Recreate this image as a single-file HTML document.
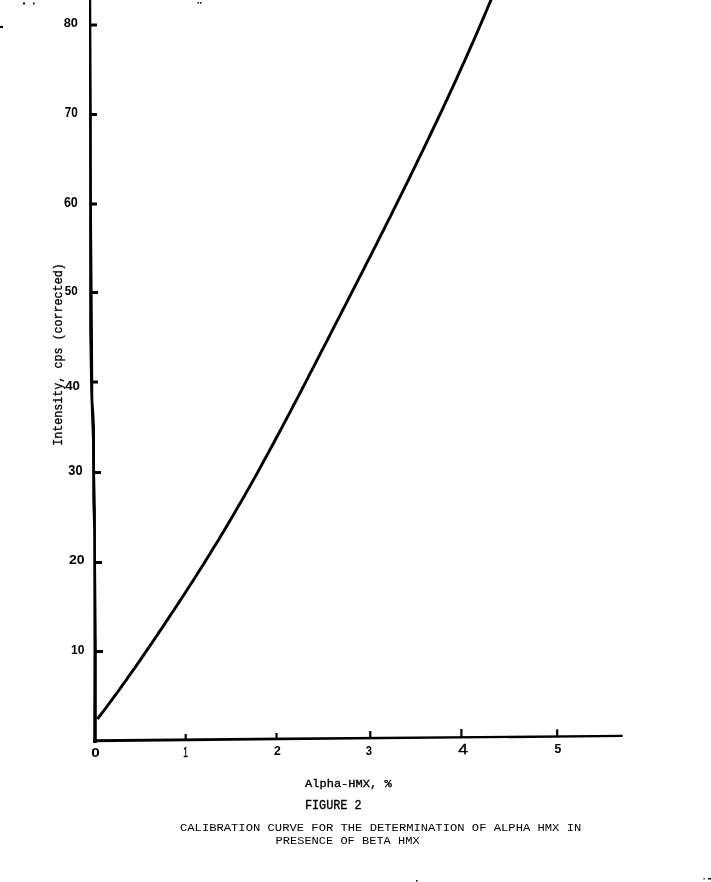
<!DOCTYPE html>
<html><head><meta charset="utf-8"><style>
html,body{margin:0;padding:0;background:#fff;}
svg{filter:grayscale(1);}
body{width:711px;height:882px;overflow:hidden;}
svg{display:block;}
.n{font-family:"Liberation Sans",sans-serif;font-weight:bold;fill:#000;}
.nr{font-family:"Liberation Sans",sans-serif;fill:#000;stroke:#000;stroke-width:0.4;}
.m{font-family:"Liberation Mono",monospace;fill:#000;}
.mb{font-family:"Liberation Mono",monospace;fill:#000;stroke:#000;stroke-width:0.35;}
</style></head><body>
<svg width="711" height="882" viewBox="0 0 711 882">
<rect width="711" height="882" fill="#fff"/>
<path d="M89,0 L89.2,330 L90.2,390 L91.2,418 L92,440 L92.3,500 L93.2,530 L93.5,650 L93.2,743 L96.8,743 L96.8,650 L96,560 L95.9,510 L95,470 L95,428 L94.3,414 L93.3,400 L92.9,330 L92,220 L91.8,120 L91.2,0Z" fill="#000"/>
<path d="M93,739.14 L622.6,734.83 L622.6,737.03 L93,742.14Z" fill="#000"/>
<line x1="90.1" y1="25" x2="97" y2="25" stroke="#000" stroke-width="3"/>
<line x1="90.3" y1="114.5" x2="97" y2="114.5" stroke="#000" stroke-width="3"/>
<line x1="90.5" y1="204" x2="97" y2="204" stroke="#000" stroke-width="3"/>
<line x1="91.0" y1="292.5" x2="98" y2="292.5" stroke="#000" stroke-width="3"/>
<line x1="91.9" y1="382" x2="98" y2="382" stroke="#000" stroke-width="3"/>
<line x1="93.5" y1="472.5" x2="101" y2="472.5" stroke="#000" stroke-width="3"/>
<line x1="94.7" y1="562.5" x2="102" y2="562.5" stroke="#000" stroke-width="3"/>
<line x1="95.3" y1="651.5" x2="103" y2="651.5" stroke="#000" stroke-width="3"/>
<line x1="185.7" y1="734" x2="185.7" y2="739.8" stroke="#000" stroke-width="2.2"/>
<line x1="276.5" y1="733" x2="276.5" y2="739.0" stroke="#000" stroke-width="2.2"/>
<line x1="370.3" y1="731" x2="370.3" y2="738.2" stroke="#000" stroke-width="2.2"/>
<line x1="461.4" y1="729" x2="461.4" y2="737.4" stroke="#000" stroke-width="2.2"/>
<line x1="557.2" y1="729.3" x2="557.2" y2="736.5" stroke="#000" stroke-width="2.2"/>

<path d="M97.4,719.0 L101.1,714.2 L104.8,709.3 L108.4,704.5 L112.0,699.6 L115.5,694.8 L119.1,690.0 L122.5,685.1 L126.0,680.3 L129.4,675.4 L132.8,670.6 L136.2,665.8 L139.6,660.9 L142.9,656.1 L146.2,651.3 L149.5,646.4 L152.8,641.6 L156.1,636.7 L159.3,631.9 L162.6,627.1 L165.8,622.2 L169.0,617.4 L172.2,612.5 L175.4,607.7 L178.6,602.9 L181.8,598.0 L184.9,593.2 L188.1,588.3 L191.2,583.5 L194.3,578.7 L197.4,573.8 L200.4,569.0 L203.5,564.2 L206.5,559.3 L209.5,554.5 L212.5,549.6 L215.5,544.8 L218.5,540.0 L221.4,535.1 L224.3,530.3 L227.2,525.4 L230.0,520.6 L232.9,515.8 L235.7,510.9 L238.5,506.1 L241.3,501.2 L244.1,496.4 L246.8,491.6 L249.6,486.7 L252.3,481.9 L255.0,477.1 L257.7,472.2 L260.3,467.4 L263.0,462.5 L265.6,457.7 L268.3,452.9 L270.9,448.0 L273.5,443.2 L276.1,438.3 L278.7,433.5 L281.3,428.7 L283.8,423.8 L286.4,419.0 L289.0,414.1 L291.5,409.3 L294.0,404.5 L296.6,399.6 L299.1,394.8 L301.6,390.0 L304.1,385.1 L306.6,380.3 L309.1,375.4 L311.6,370.6 L314.1,365.8 L316.6,360.9 L319.1,356.1 L321.6,351.2 L324.1,346.4 L326.6,341.6 L329.1,336.7 L331.6,331.9 L334.0,327.0 L336.5,322.2 L339.0,317.4 L341.5,312.5 L344.0,307.7 L346.5,302.9 L348.9,298.0 L351.4,293.2 L353.9,288.3 L356.4,283.5 L358.8,278.7 L361.3,273.8 L363.8,269.0 L366.2,264.1 L368.7,259.3 L371.2,254.5 L373.6,249.6 L376.1,244.8 L378.5,239.9 L380.9,235.1 L383.4,230.3 L385.8,225.4 L388.2,220.6 L390.7,215.8 L393.1,210.9 L395.5,206.1 L397.9,201.2 L400.3,196.4 L402.7,191.6 L405.1,186.7 L407.5,181.9 L409.9,177.0 L412.2,172.2 L414.6,167.4 L416.9,162.5 L419.3,157.7 L421.6,152.8 L424.0,148.0 L426.3,143.2 L428.6,138.3 L430.9,133.5 L433.2,128.7 L435.5,123.8 L437.8,119.0 L440.1,114.1 L442.4,109.3 L444.6,104.5 L446.9,99.6 L449.1,94.8 L451.4,89.9 L453.6,85.1 L455.8,80.3 L458.0,75.4 L460.2,70.6 L462.4,65.7 L464.6,60.9 L466.7,56.1 L468.9,51.2 L471.0,46.4 L473.2,41.6 L475.3,36.7 L477.4,31.9 L479.5,27.0 L481.6,22.2 L483.6,17.4 L485.7,12.5 L487.7,7.7 L489.8,2.8 L491.8,-2.0" fill="none" stroke="#000" stroke-width="2.9" stroke-linejoin="round"/>
<text x="63.7" y="26.9" font-size="11.9" textLength="14.2" lengthAdjust="spacingAndGlyphs" class="n">80</text>
<text x="64.8" y="116.6" font-size="14.1" textLength="13.0" lengthAdjust="spacingAndGlyphs" class="n">70</text>
<text x="63.9" y="206.6" font-size="15.4" textLength="13.9" lengthAdjust="spacingAndGlyphs" class="n">60</text>
<text x="64.8" y="295.3" font-size="13.0" textLength="13.0" lengthAdjust="spacingAndGlyphs" class="n">50</text>
<text x="65.2" y="389.5" font-size="13.5" textLength="14.8" lengthAdjust="spacingAndGlyphs" class="n">40</text>
<text x="68.3" y="475.2" font-size="13.8" textLength="14.2" lengthAdjust="spacingAndGlyphs" class="n">30</text>
<text x="69" y="564" font-size="12.3" textLength="15.6" lengthAdjust="spacingAndGlyphs" class="n">20</text>
<text x="71.1" y="654" font-size="12.3" textLength="13.5" lengthAdjust="spacingAndGlyphs" class="n">10</text>
<text x="91.2" y="756.5" font-size="13.4" textLength="8.5" lengthAdjust="spacingAndGlyphs" class="n">0</text>
<text x="183.2" y="756.7" font-size="14.7" textLength="4.6" lengthAdjust="spacingAndGlyphs" class="nr">1</text>
<text x="274" y="754.6" font-size="12.4" textLength="6.8" lengthAdjust="spacingAndGlyphs" class="n">2</text>
<text x="365.7" y="754.7" font-size="13.5" textLength="6.3" lengthAdjust="spacingAndGlyphs" class="n">3</text>
<text x="458.3" y="753.8" font-size="14.7" textLength="9.7" lengthAdjust="spacingAndGlyphs" class="nr">4</text>
<text x="554.6" y="753" font-size="13.0" textLength="6.8" lengthAdjust="spacingAndGlyphs" class="n">5</text>
<text x="305" y="787" font-size="11.7" textLength="86.7" lengthAdjust="spacingAndGlyphs" class="mb">Alpha-HMX, %</text>
<text x="305" y="808.7" font-size="12.9" textLength="56.5" lengthAdjust="spacingAndGlyphs" class="mb">FIGURE 2</text>
<text x="180" y="831.3" font-size="10.3" textLength="401.3" lengthAdjust="spacingAndGlyphs" class="m">CALIBRATION CURVE FOR THE DETERMINATION OF ALPHA HMX IN</text>
<text x="275.6" y="844.1" font-size="10.2" textLength="144.0" lengthAdjust="spacingAndGlyphs" class="m">PRESENCE OF BETA HMX</text>

<g transform="translate(61.5,445.8) rotate(-90)"><text x="0" y="0" font-size="13.6" textLength="182.5" lengthAdjust="spacingAndGlyphs" class="m" stroke="#000" stroke-width="0.35">Intensity, cps (corrected)</text></g>

<rect x="23" y="2.5" width="2" height="2" fill="#000"/>
<rect x="33" y="2.5" width="1.5" height="2" fill="#000"/>
<rect x="0" y="26" width="3" height="2" fill="#000"/>
<rect x="197.5" y="2" width="1.5" height="1.5" fill="#000"/>
<rect x="200" y="2" width="1.5" height="1.5" fill="#000"/>
<rect x="416" y="880" width="1.5" height="1.5" fill="#000"/>
<rect x="703.5" y="878" width="1.2" height="1.5" fill="#000"/>
<rect x="708" y="878" width="3" height="1.5" fill="#000"/>

</svg>
</body></html>
